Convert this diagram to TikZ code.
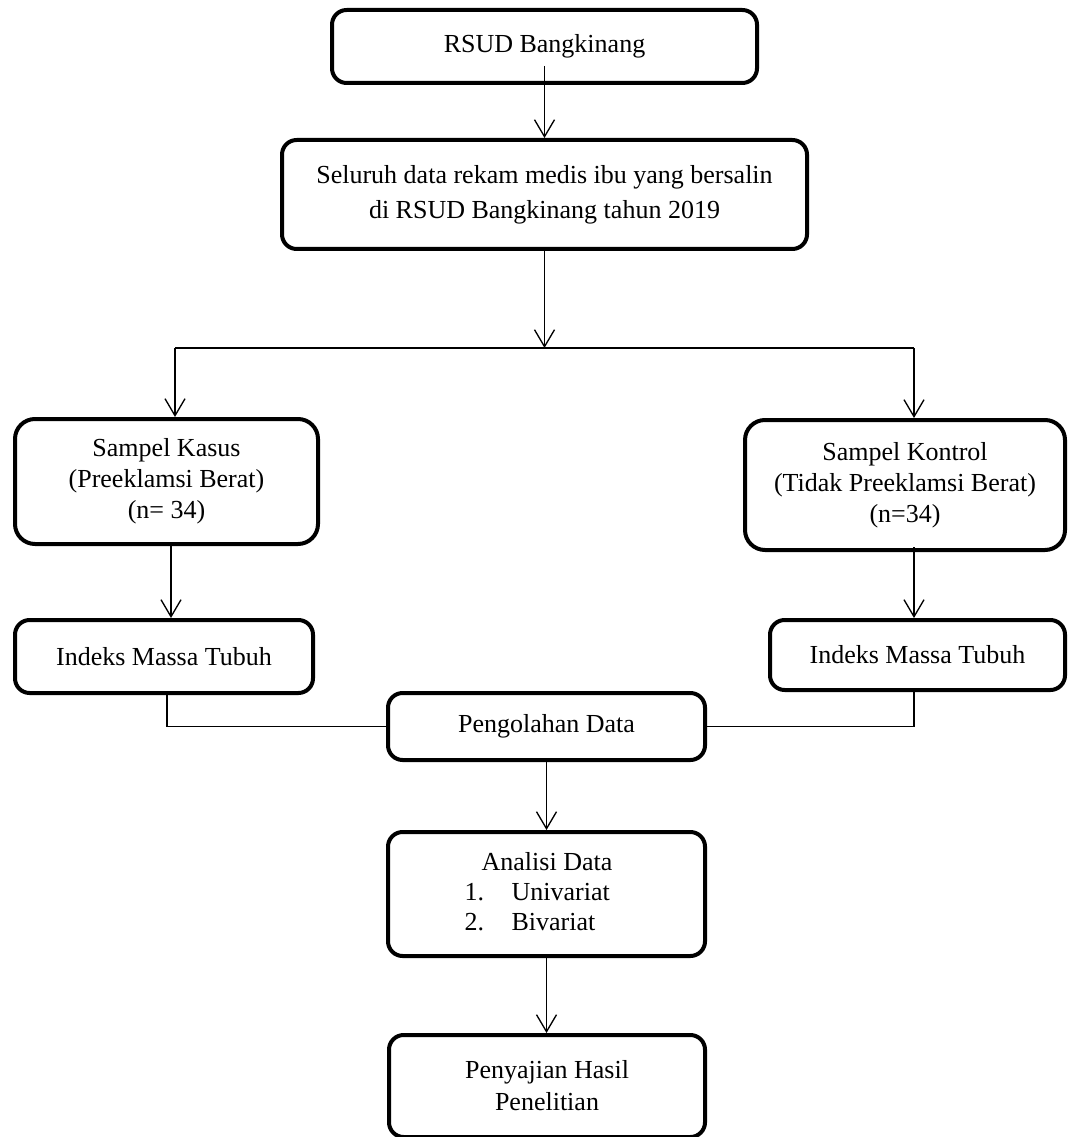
\documentclass[tikz,border=0pt]{standalone}
\usepackage{fontspec}
\setmainfont{Liberation Serif}
\usetikzlibrary{arrows.meta,calc}
\begin{document}
\begin{tikzpicture}[x=0.75pt,y=-0.75pt,
  box/.style={draw, line width=3pt, rounded corners=11pt, align=center, inner sep=0pt,
    font=\fontsize{19.5pt}{22.5pt}\selectfont},
  conn/.style={line width=1pt},
  arr/.style={conn, -{Straight Barb[length=12.75pt,width=15pt]}}]
\fill[white] (0,0) rectangle (1067,1137);
\useasboundingbox (0,0) rectangle (1067,1137);

\node[box, minimum width=318.75pt, minimum height=54.75pt] (b1) at (544.5,46.5) {RSUD Bangkinang};
\node[box, minimum width=393.75pt, minimum height=81.75pt, font=\fontsize{19.5pt}{26.25pt}\selectfont] (b2) at (544.5,194.5) {Seluruh data rekam medis ibu yang bersalin\\di RSUD Bangkinang tahun 2019};
\node[box, rounded corners=15pt, minimum width=227.25pt, minimum height=93.75pt, font=\fontsize{19.5pt}{23.25pt}\selectfont] (b3) at (166.5,481.5) {Sampel Kasus\\(Preeklamsi Berat)\\(n= 34)};
\node[box, rounded corners=15pt, minimum width=240pt, minimum height=97.5pt, font=\fontsize{19.5pt}{23.25pt}\selectfont] (b4) at (905,485) {Sampel Kontrol\\(Tidak Preeklamsi Berat)\\(n=34)};
\node[box, minimum width=223.5pt, minimum height=54.75pt] (b5) at (164,656.5) {Indeks Massa Tubuh};
\node[box, minimum width=221.25pt, minimum height=52.5pt] (b6) at (917.5,655) {Indeks Massa Tubuh};
\node[box, minimum width=237.75pt, minimum height=50.25pt] (b7) at (546.5,726.5) {Pengolahan Data};
\node[box, minimum width=237.75pt, minimum height=93pt] (b8) at (546.5,894) {\begin{tabular}{@{}l@{\hspace{20.6pt}}l@{}}\multicolumn{2}{@{}c@{}}{\hspace*{12.75pt}Analisi Data}\\ 1. & Univariat\\ 2. & Bivariat\end{tabular}\hspace*{12pt}};
\node[box, minimum width=237pt, minimum height=76.5pt, font=\fontsize{19.5pt}{24pt}\selectfont] (b9) at (547,1086) {Penyajian Hasil\\Penelitian};

\coordinate (j) at (544.5,348);
\coordinate (jl) at (175,348);
\coordinate (jr) at (914,348);
\coordinate (k1) at (171,0);
\coordinate (k2) at (167,0);

\draw[arr] ($(b1.south)+(0,-19)$) -- (b2.north);
\draw[arr] (b2.south) -- (j);
\draw[conn] (jl) -- (jr);
\draw[arr] (jl) -- (jl |- b3.north);
\draw[arr] (jr) -- (jr |- b4.north);
\draw[arr] (k1 |- b3.south) -- (k1 |- b5.north);
\draw[arr] ($(jr |- b4.south)+(0,-5)$) -- (jr |- b6.north);
\draw[conn] (k2 |- b5.south) |- (b7.west);
\draw[conn] (jr |- b6.south) |- (b7.east);
\draw[arr] (b7.south) -- (b8.north);
\draw[arr] (b8.south) -- (b8.south |- b9.north);
\end{tikzpicture}
\end{document}
